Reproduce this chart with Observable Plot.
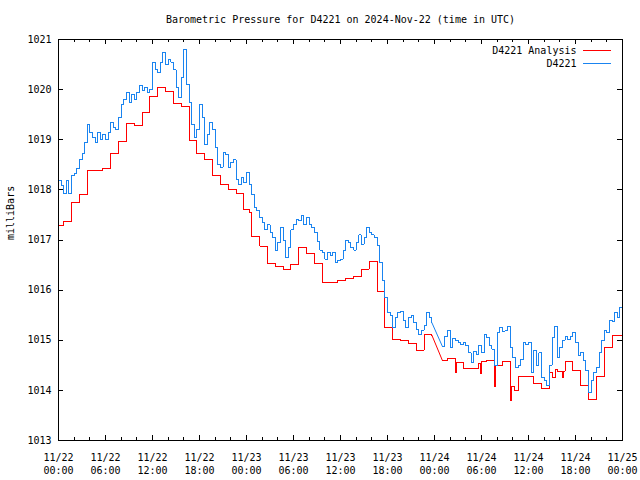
<!DOCTYPE html>
<html>
<head>
<meta charset="utf-8">
<script src="https://cdn.jsdelivr.net/npm/d3@7"></script>
<script src="https://cdn.jsdelivr.net/npm/@observablehq/plot@0.6"></script>
<style>
  html, body { margin: 0; padding: 0; background: #fff; }
  svg { display: block; }
</style>
</head>
<body>
<div id="chart"></div>
<script>
// ---------- chart text ----------
const title = "Barometric Pressure for D4221 on 2024-Nov-22 (time in UTC)";
const yLabel = "milliBars";
const seriesNames = ["D4221 Analysis", "D4221"];
const seriesColors = ["#ff0000", "#1a84f0"];

// ---------- time axis ----------
const startUTC = Date.UTC(2024, 10, 22, 0, 0);   // 11/22 00:00 UTC
const spanHours = 72;
const majorTickHours = 6;
const minorTickHours = 2;
const yTicks = [1013, 1014, 1015, 1016, 1017, 1018, 1019, 1020, 1021];

// ---------- D4221 Analysis: [hours since 11/22 00:00, mbar] (step values) ----------
const analysisPoints = [
  [0, 1017.29], [0.667, 1017.37], [1.667, 1017.74], [2.667, 1017.90], [3.667, 1018.39],
  [5.667, 1018.43], [6.667, 1018.72], [7.667, 1018.97], [8.667, 1019.32], [9.667, 1019.28],
  [10.667, 1019.54], [11.667, 1019.86], [12.667, 1020.04], [13.667, 1019.96], [14.667, 1019.73],
  [15.667, 1019.67], [16.667, 1018.99], [17.667, 1018.72], [18.667, 1018.60], [19.667, 1018.29],
  [20.667, 1018.11], [21.667, 1018.01], [22.667, 1017.92], [23.667, 1017.61], [24.333, 1017.54],
  [24.667, 1017.07], [25.667, 1016.88], [26.667, 1016.54], [27.667, 1016.48], [28.667, 1016.41],
  [29.667, 1016.52], [30.667, 1016.86], [31.667, 1016.74], [32.667, 1016.54], [33.667, 1016.15],
  [34.667, 1016.16], [35.667, 1016.20], [36.667, 1016.24], [37.667, 1016.27], [38.667, 1016.42],
  [39.667, 1016.57], [40.667, 1015.98], [41.667, 1015.25], [42.667, 1015.01], [43.667, 1014.99],
  [44.667, 1014.93], [45.667, 1014.80], [46.667, 1015.11], [47.667, 1015.10], [48.3, null],
  [49.0, 1014.60], [49.667, 1014.63], [50.667, 1014.36], [50.833, 1014.56], [51.667, 1014.43],
  [53.667, 1014.53], [53.833, 1014.34], [54.0, 1014.57], [54.667, 1014.60], [55.667, 1014.08],
  [55.833, 1014.50], [56.667, 1014.57], [57.667, 1013.80], [57.833, 1014.07], [58.2, 1014.00],
  [58.667, 1014.28], [60.667, 1014.13], [61.667, 1014.04], [62.667, 1014.36], [63.0, 1014.25],
  [63.4, 1014.41], [63.667, 1014.38], [64.3, 1014.25], [64.45, 1014.38], [64.667, 1014.58],
  [65.667, 1014.40], [66.667, 1014.10], [67.667, 1013.82], [68.667, 1014.28], [69.667, 1014.85],
  [70.667, 1015.09], [72, 1015.09]
];

// ---------- D4221 station: one value every 20 minutes from 11/22 00:00 ----------
const stationStepHours = 1 / 3;
const stationValues = [
  1018.19, 1018.09, 1017.92, 1018.19, 1017.93, 1018.28, 1018.33, 1018.43, 1018.60, 1018.72,
  1018.95, 1019.30, 1019.15, 1019.05, 1018.95, 1019.15, 1019.00, 1019.10, 1019.00, 1019.15,
  1019.35, 1019.25, 1019.20, 1019.45, 1019.70, 1019.80, 1019.95, 1019.75, 1019.90, 1019.80,
  1019.95, 1020.08, 1019.98, 1020.05, 1019.95, 1020.00, 1020.55, 1020.40, 1020.35, 1020.55,
  1020.75, 1020.50, 1020.60, 1020.55, 1020.40, 1020.05, 1019.85, 1020.25, 1020.80, 1020.10,
  1019.75, 1019.30, 1019.05, 1019.20, 1019.70, 1019.45, 1018.90, 1019.10, 1019.35, 1019.20,
  1018.85, 1018.50, 1018.45, 1018.75, 1018.70, 1018.45, 1018.55, 1018.60, 1018.20, 1018.10,
  1018.25, 1018.15, 1018.35, 1018.10, 1017.90, 1017.65, 1017.58, 1017.45, 1017.35, 1017.20,
  1017.30, 1017.15, 1017.05, 1016.80, 1016.95, 1017.25, 1017.00, 1016.65, 1016.85, 1017.20,
  1017.30, 1017.40, 1017.38, 1017.48, 1017.30, 1017.45, 1017.30, 1017.25, 1017.15, 1016.98,
  1016.80, 1016.75, 1016.62, 1016.75, 1016.70, 1016.75, 1016.55, 1016.60, 1016.62, 1016.80,
  1017.00, 1016.95, 1016.85, 1016.80, 1016.95, 1017.10, 1016.92, 1017.05, 1017.25, 1017.15,
  1017.10, 1017.05, 1016.90, 1016.55, 1016.20, 1015.85, 1015.55, 1015.50, 1015.25, 1015.45,
  1015.55, 1015.58, 1015.40, 1015.25, 1015.45, 1015.50, 1015.35, 1015.22, 1015.12, 1015.20,
  1015.30, 1015.55, 1015.45, 1015.35, null, null, null, 1014.88, 1015.08, 1015.20,
  1014.85, 1015.03, 1015.00, 1014.95, 1014.92, 1014.95, 1014.90, 1014.75, 1014.55, 1014.78,
  1014.72, 1014.90, 1014.75, 1015.12, 1015.05, 1014.90, 1014.82, 1014.50, 1015.15, 1015.25,
  1015.18, 1015.20, 1015.28, 1014.85, 1014.65, 1014.45, 1014.50, 1014.62, 1014.95, 1014.92,
  1014.95, 1014.35, 1014.80, 1014.50, 1014.75, 1014.25, 1014.20, 1014.10, 1014.50, 1015.05,
  1015.27, 1014.65, 1014.85, 1015.00, 1015.08, 1015.02, 1015.08, 1015.15, 1014.95, 1014.70,
  1014.75, 1014.60, 1014.40, 1013.95, 1014.20, 1014.35, 1014.45, 1014.75, 1015.00, 1015.20,
  1015.15, 1015.40, 1015.38, 1015.55, 1015.45, 1015.65, 1015.50
];

// ---------- build tables ----------
const HOUR = 3600e3;
const toDate = h => new Date(startUTC + h * HOUR);
const analysis = analysisPoints.map(([h, v]) => ({t: toDate(h), v}));
const station = stationValues.map((v, i) => ({t: toDate(i * stationStepHours), v}));

// straight segments bridging missing data (drawn linearly, as in the source plot)
function gapLinks(data) {
  const out = [];
  let k = 0;
  for (let i = 0; i < data.length; i++) {
    if (data[i].v == null) {
      const a = i - 1;
      while (i < data.length && data[i].v == null) i++;
      if (a >= 0 && i < data.length) {
        out.push({...data[a], k}, {...data[i], k});
        k++;
      }
    }
  }
  return out;
}

const W = 640, H = 480;
const mL = 58, mR = 18, mT = 39, mB = 40;
const plotW = W - mL - mR, plotH = H - mT - mB;
const majorLen = 5, minorLen = 3;

const t0 = toDate(0), t1 = toDate(spanHours);
const majorTicks = d3.utcHour.every(majorTickHours).range(t0, toDate(spanHours + 0.01));
const minorTicks = d3.utcHour.every(minorTickHours).range(t0, toDate(spanHours + 0.01))
  .filter(d => d.getUTCHours() % majorTickHours !== 0);

const font = "'DejaVu Sans Mono', 'Liberation Mono', monospace";

const legendLines = (index, scales, values, dimensions) => {
  const g = d3.create("svg:g");
  const xr = dimensions.width - dimensions.marginRight;
  const rows = [mT + 11, mT + 24];
  seriesColors.forEach((c, i) => {
    g.append("line")
      .attr("x1", xr - 39).attr("x2", xr - 11)
      .attr("y1", rows[i] + 0.5).attr("y2", rows[i] + 0.5)
      .attr("stroke", c).attr("stroke-width", 1)
      .attr("shape-rendering", "crispEdges");
  });
  return g.node();
};

const chart = Plot.plot({
  width: W,
  height: H,
  marginLeft: mL,
  marginRight: mR,
  marginTop: mT,
  marginBottom: mB,
  style: {fontFamily: font, fontSize: "10px", background: "#fff", color: "#000"},
  x: {type: "utc", domain: [t0, t1]},
  y: {domain: [1013, 1021]},
  marks: [
    // data
    Plot.line(analysis, {x: "t", y: "v", curve: "step-after", stroke: seriesColors[0], strokeWidth: 1, shapeRendering: "crispEdges"}),
    Plot.line(gapLinks(analysis), {x: "t", y: "v", z: "k", stroke: seriesColors[0], strokeWidth: 1}),
    Plot.line(station, {x: "t", y: "v", curve: "step-after", stroke: seriesColors[1], strokeWidth: 1, shapeRendering: "crispEdges"}),
    Plot.line(gapLinks(station), {x: "t", y: "v", z: "k", stroke: seriesColors[1], strokeWidth: 1}),
    // frame and inward ticks
    Plot.frame({stroke: "#000", shapeRendering: "crispEdges"}),
    Plot.tickX(majorTicks, {x: d => d, insetTop: plotH - majorLen, stroke: "#000", shapeRendering: "crispEdges"}),
    Plot.tickX(majorTicks, {x: d => d, insetBottom: plotH - majorLen, stroke: "#000", shapeRendering: "crispEdges"}),
    Plot.tickX(minorTicks, {x: d => d, insetTop: plotH - minorLen, stroke: "#000", shapeRendering: "crispEdges"}),
    Plot.tickX(minorTicks, {x: d => d, insetBottom: plotH - minorLen, stroke: "#000", shapeRendering: "crispEdges"}),
    Plot.tickY(yTicks, {y: d => d, insetRight: plotW - majorLen, stroke: "#000", shapeRendering: "crispEdges"}),
    Plot.tickY(yTicks, {y: d => d, insetLeft: plotW - majorLen, stroke: "#000", shapeRendering: "crispEdges"}),
    // axis labels
    Plot.axisX({ticks: majorTicks, tickSize: 0, tickPadding: 11, label: null,
      tickFormat: d3.utcFormat("%m/%d\n%H:%M"), lineHeight: 1.3, fill: "#000"}),
    Plot.axisY({ticks: yTicks, tickSize: 0, tickPadding: 7, label: null,
      tickFormat: d3.format("d"), fill: "#000"}),
    // title, y label
    Plot.text([title], {text: d => d, frameAnchor: "top", lineAnchor: "middle", dy: -20, fill: "#000"}),
    Plot.text([yLabel], {text: d => d, frameAnchor: "left", lineAnchor: "middle", dx: -48, rotate: -90, fill: "#000"}),
    // legend
    Plot.text([seriesNames[0]], {text: d => d, frameAnchor: "top-right", textAnchor: "end", lineAnchor: "middle", dx: -46, dy: 11, fill: "#000"}),
    Plot.text([seriesNames[1]], {text: d => d, frameAnchor: "top-right", textAnchor: "end", lineAnchor: "middle", dx: -46, dy: 24, fill: "#000"}),
    legendLines
  ]
});

document.getElementById("chart").appendChild(chart);
</script>
</body>
</html>
